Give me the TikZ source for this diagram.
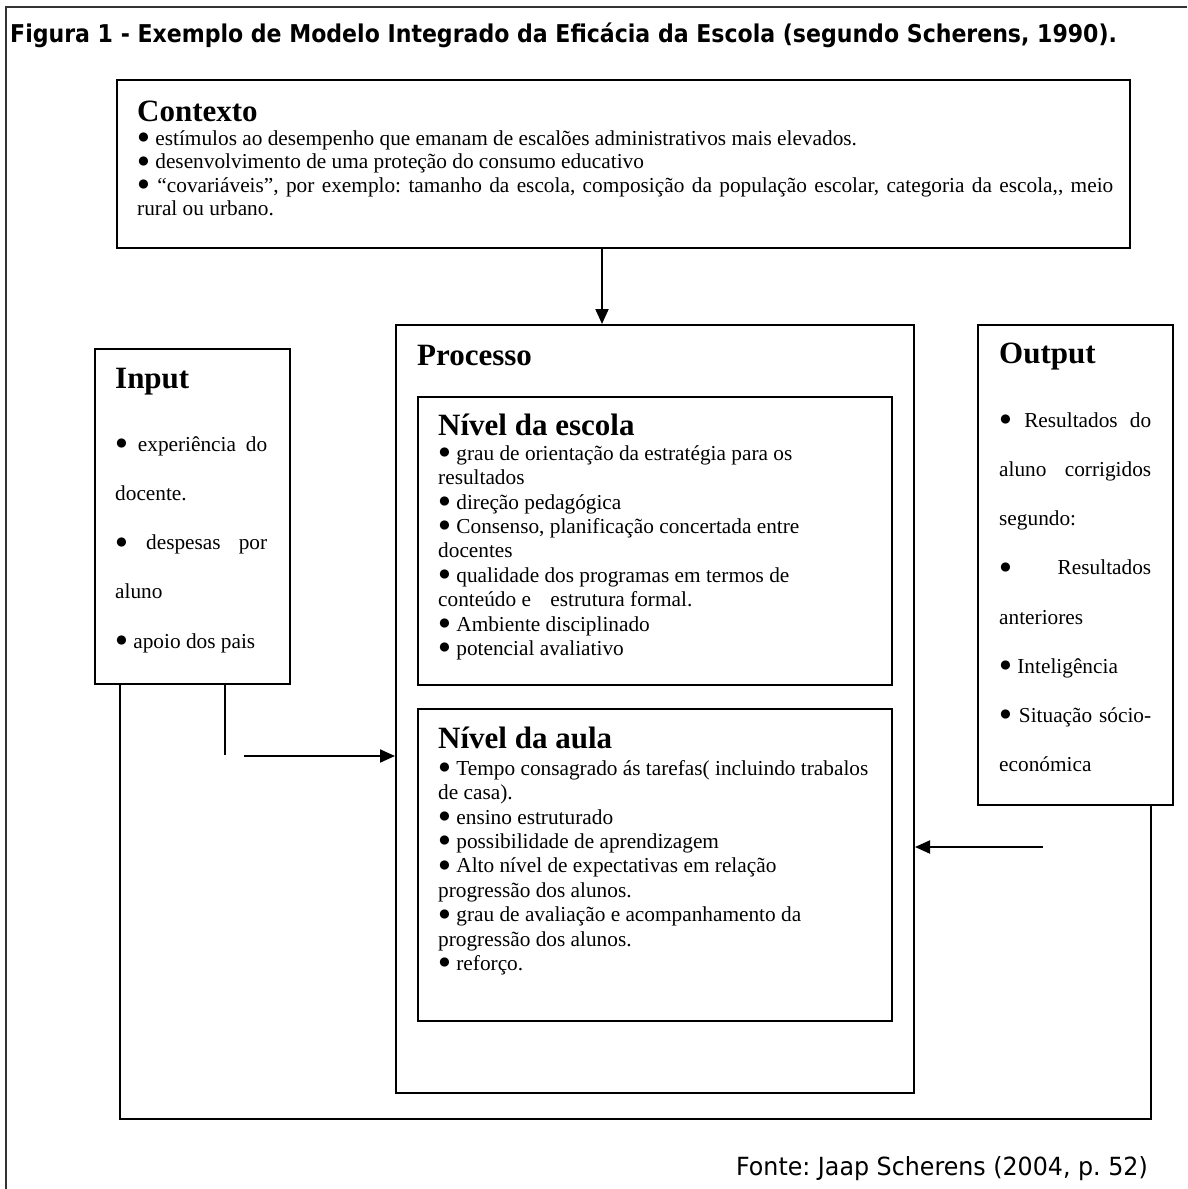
\documentclass[tikz,border=0pt]{standalone}
\usepackage{fontspec}
\setmainfont{Liberation Serif}
\newfontfamily\figsans[FakeStretch=0.9]{DejaVu Sans}
\newfontfamily\figsource[FakeStretch=0.95]{DejaVu Sans}
\usetikzlibrary{arrows.meta,positioning}
\setlength{\parindent}{0pt}
\newcommand{\bul}{\raisebox{1.5pt}{●}}
\newcommand{\jline}[2][152pt]{\makebox[#1][s]{\spaceskip=0.25em plus 1fil\relax #2}}
\begin{document}
\begin{tikzpicture}
            [x=1pt, y=-1pt,
             box/.style = {draw, line width=2pt, inner sep=0pt, anchor=north west},
             head/.style = {anchor=base west, inner sep=0pt, font=\fontsize{31}{36}\selectfont\bfseries},
             body/.style = {anchor=north west, inner sep=0pt, align=flush left, font=\fontsize{21.3}{24.4}\selectfont\frenchspacing},
             tall/.style = {body, text width=160pt, font=\fontsize{21.3}{49.2}\selectfont\frenchspacing},
             link/.style = {line width=2pt},
             arrow/.style = {link, -{Triangle[length=15pt, width=13pt]}}]
            \useasboundingbox (0,0) rectangle (1187,1189);
            \draw[line width=2.5pt, black!80] (6,1189) -- (6,7) -- (1187,7);
            \node[anchor=base west, inner sep=0pt, font=\figsans\bfseries\fontsize{24.5}{28}\selectfont\frenchspacing] (title) at (10,42)
                {Figura 1 - Exemplo de Modelo Integrado da Eficácia da Escola (segundo Scherens, 1990).};
            \node[box, minimum width=1013pt, minimum height=168pt] (ctx) at (116,79) {};
            \node[head] (ctxhead) at (137,121) {Contexto};
            \node[body, text width=1040pt, font=\fontsize{21.3}{23.5}\selectfont\frenchspacing] (ctxtext) at (137,125)
                {\rule{0pt}{20pt}\bul{} estímulos ao desempenho que emanam de escalões administrativos mais elevados.\\
                 \bul{} desenvolvimento de uma proteção do consumo educativo\\
                 \jline[976pt]{\bul{} “covariáveis”, por exemplo: tamanho da escola, composição da população escolar, categoria da escola,{}, meio}\\
                 rural ou urbano.};
            \node[box, minimum width=518pt, minimum height=768pt] (proc) at (395,324) {};
            \node[head] (prochead) at (417,365) {Processo};
            \node[box, minimum width=474pt, minimum height=288pt] (school) at (417,396) {};
            \node[head] (schoolhead) at (438,435) {Nível da escola};
            \node[body, text width=450pt] (schooltext) at (438,440)
                {\rule{0pt}{20pt}\bul{} grau de orientação da estratégia para os\\
                 resultados\\
                 \bul{} direção pedagógica\\
                 \bul{} Consenso, planificação concertada entre\\
                 docentes\\
                 \bul{} qualidade dos programas em termos de\\
                 conteúdo e\hspace{14pt} estrutura formal.\\
                 \bul{} Ambiente disciplinado\\
                 \bul{} potencial avaliativo};
            \node[box, minimum width=474pt, minimum height=312pt] (class) at (417,708) {};
            \node[head] (classhead) at (438,748) {Nível da aula};
            \node[body, text width=450pt] (classtext) at (438,755)
                {\rule{0pt}{20pt}\bul{} Tempo consagrado ás tarefas( incluindo trabalos\\
                 de casa).\\
                 \bul{} ensino estruturado\\
                 \bul{} possibilidade de aprendizagem\\
                 \bul{} Alto nível de expectativas em relação\\
                 progressão dos alunos.\\
                 \bul{} grau de avaliação e acompanhamento da\\
                 progressão dos alunos.\\
                 \bul{} reforço.};
            \node[box, minimum width=195pt, minimum height=335pt] (inp) at (94,348) {};
            \node[head] (inphead) at (115,388) {Input};
            \node[tall] (inptext) at (115,431)
                {\rule{0pt}{20pt}\jline{\bul{} experiência do}\\
                 docente.\\
                 \jline{\bul{} despesas por}\\
                 aluno\\
                 \bul{} apoio dos pais};
            \node[box, minimum width=195pt, minimum height=480pt] (out) at (977,324) {};
            \node[head] (outhead) at (999,363) {Output};
            \node[tall] (outtext) at (999,407)
                {\rule{0pt}{20pt}\jline{\bul{} Resultados do}\\
                 \jline{aluno corrigidos}\\
                 segundo:\\
                 \jline{\bul{} Resultados}\\
                 anteriores\\
                 \bul{} Inteligência\\
                 \jline{\bul{} Situação sócio-}\\
                 económica};
            \node[anchor=base east, inner sep=0pt, font=\figsource\fontsize{25}{29}\selectfont\frenchspacing] (source) at (1148,1175)
                {Fonte: Jaap Scherens (2004, p. 52)};
            \coordinate (ctxdrop) at (602,0);
            \coordinate (inpdrop) at (225,755);
            \coordinate (inpfeed) at (244,756);
            \coordinate (outfeed) at (1043,847);
            \coordinate (loopleft) at (120,1119);
            \coordinate (loopright) at (1151,1119);
            \draw[arrow] (ctx.south -| ctxdrop) -- (proc.north -| ctxdrop);
            \draw[link, line width=1.5pt] (inp.south -| inpdrop) -- (inpdrop);
            \draw[arrow] (inpfeed) -- (proc.west |- inpfeed);
            \draw[arrow] (outfeed) -- (proc.east |- outfeed);
            \draw[link] (inp.south -| loopleft) -- (loopleft) -- (loopright) -- (out.south -| loopright);
        \end{tikzpicture}
\end{document}
